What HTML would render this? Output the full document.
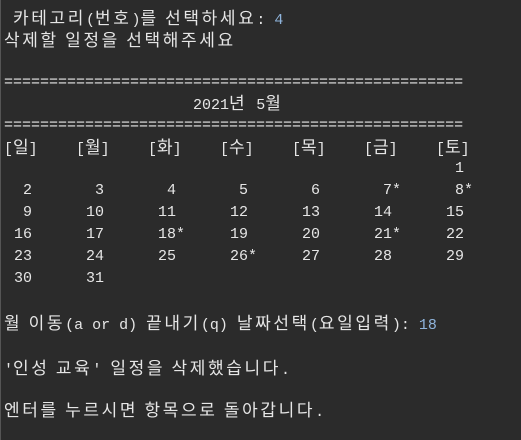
<!DOCTYPE html>
<html><head><meta charset="utf-8">
<style>
html,body{margin:0;padding:0;}
body{width:521px;height:440px;background:#2b2b2b;position:relative;overflow:hidden;
font-family:"Liberation Mono","Noto Sans CJK KR",monospace;font-size:15px;color:#e6e6e6;}
.edge{position:absolute;left:0;top:0;width:1px;height:440px;background:#555;}
.l{position:absolute;left:4px;height:20px;line-height:20px;white-space:pre;}
.k{font-family:"Noto Sans CJK KR","NanumGothic",sans-serif;font-size:17px;letter-spacing:2.6px;}
.in{color:#8fb4dc;}
.n{position:absolute;height:20px;line-height:20px;white-space:pre;}
</style></head>
<body>
<div class="edge"></div>
<div class="l" style="left:13px;top:7px"><span class="k">카테고리</span>(<span class="k">번호</span>)<span class="k">를 선택하세요</span>: <span class="in">4</span></div>
<div class="l" style="top:29px"><span class="k">삭제할 일정을 선택해주세요</span></div>
<div class="l" style="top:73px">===================================================</div>
<div class="l" style="left:193px;top:92px">2021<span class="k">년</span> 5<span class="k">월</span></div>
<div class="l" style="top:116px">===================================================</div>
<div id="cal"></div>
<div class="l" style="top:312px"><span class="k">월 이동</span>(a or d) <span class="k">끝내기</span>(q) <span class="k">날짜선택</span>(<span class="k">요일입력</span>): <span class="in">18</span></div>
<div class="l" style="top:357px">'<span class="k">인성 교육</span>' <span class="k">일정을 삭제했습니다</span>.</div>
<div class="l" style="top:399px"><span class="k">엔터를 누르시면 항목으로 돌아갑니다</span>.</div>
<script>
const days=['일','월','화','수','목','금','토'];
const firstDay=6; // May 1 2021 is Saturday
const numDays=31;
const marked=[7,8,18,21,26];
const cal=document.getElementById('cal');
days.forEach((d,i)=>{
  const el=document.createElement('div');
  el.className='n';
  el.style.left=(4+72*i)+'px';el.style.top='136px';
  el.innerHTML='[<span class="k" style="letter-spacing:0">'+d+'</span>]';
  
  
  cal.appendChild(el);
});
for(let d=1;d<=numDays;d++){
  const idx=firstDay+d-1;const col=idx%7,row=Math.floor(idx/7);
  const el=document.createElement('div');
  el.className='n';
  const right=32+72*col;
  const w=String(d).length*9;
  el.style.left=(right-w)+'px';
  el.style.top=(159+22*row)+'px';
  el.textContent=d+(marked.includes(d)?'*':'');
  
  
  cal.appendChild(el);
}
</script>
</body></html>
